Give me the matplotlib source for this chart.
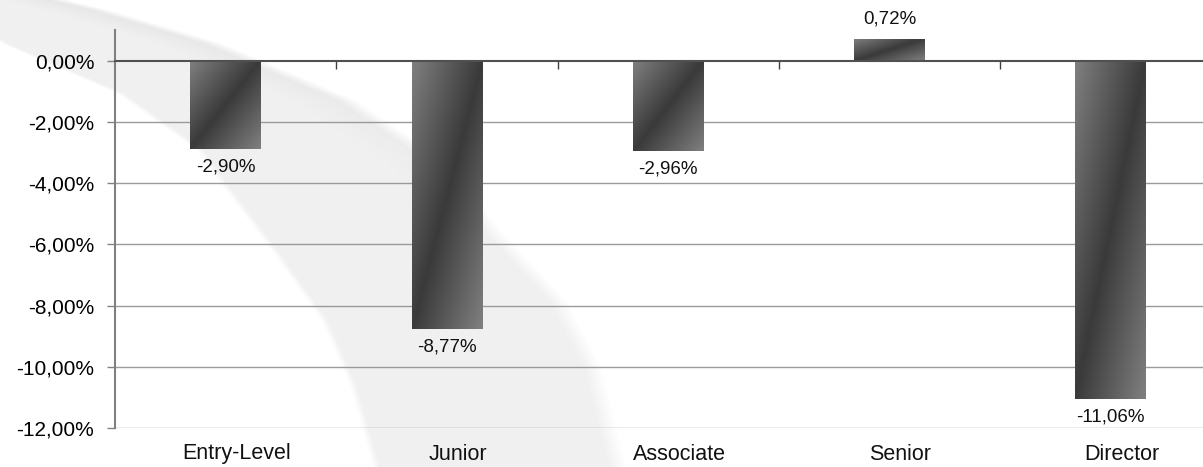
import numpy as np
import matplotlib
matplotlib.use('Agg')
import matplotlib.pyplot as plt

plt.rcParams['font.family'] = ['Liberation Sans', 'DejaVu Sans']

categories = ['Entry-Level', 'Junior', 'Associate', 'Senior', 'Director']
values = [-2.90, -8.77, -2.96, 0.72, -11.06]
yticks = [0, -2, -4, -6, -8, -10, -12]

W, H = 1203, 467
fig = plt.figure(figsize=(W / 100, H / 100), dpi=100)

# faint swoosh watermark behind the chart, drawn as a soft raster
bg = fig.add_axes([0, 0, 1, 1], zorder=-1)
Y, X = np.mgrid[0:H, 0:W].astype(float)
left_y = [0, 43, 93, 150, 180, 250, 320, 383, 467]
left_x = [-60, 0, 116, 196, 217, 270, 320, 348, 372]
right_y = [0, 10, 43, 100, 160, 233, 300, 367, 467]
right_x = [70, 112, 223, 357, 446, 505, 568, 603, 628]
xl = np.interp(Y, left_y, left_x)
xr = np.interp(Y, right_y, right_x)
inside = np.clip((X - xl) / 8, 0, 1) * np.clip((xr - X) / 20, 0, 1)
band = np.clip(1 - (xr - X) / 70, 0, 1) * np.clip(1 - Y / 260, 0, 1) * inside
gray = 1 - 0.06 * inside - 0.05 * band
bg.imshow(gray, cmap='gray', vmin=0, vmax=1, extent=[0, W, H, 0], aspect='auto',
          interpolation='bilinear')
bg.axis('off')

ax = fig.add_axes([115 / W, 39 / H, 1 - 115 / W, 398 / H])
ax.patch.set_alpha(0)

for y in yticks:
    if y != 0:
        ax.axhline(y, color='#9a9a9a', lw=1, zorder=1)

# diagonal gradient used for the bars
g = np.linspace(0, 1, 200)
u, v = np.meshgrid(g, g)
shade = 1 - np.abs(u + v - 1)
light = np.array([0x80, 0x80, 0x80]) / 255
dark = np.array([0x3a, 0x3a, 0x3a]) / 255
img = light + (dark - light) * shade[..., None]

x = np.arange(len(categories))
bars = ax.bar(x, values, width=0.32, color='none', zorder=2)
for b, val in zip(bars, values):
    x0, w = b.get_x(), b.get_width()
    y0, y1 = min(0, val), max(0, val)
    im = ax.imshow(img, extent=[x0, x0 + w, y0, y1], origin='upper',
                   aspect='auto', zorder=2, interpolation='bilinear')
    im.set_clip_path(b)
    lbl = ('%.2f%%' % val).replace('.', ',')
    off = 20 if val > 0 else -18
    ax.annotate(lbl, (x0 + w / 2, val), xytext=(0, off),
                textcoords='offset pixels', ha='center', va='center',
                fontsize=13.5, color='#111111')

ax.set_xlim(-0.5, 4.417)
ax.set_ylim(-12, 1)

for s in ['top', 'right']:
    ax.spines[s].set_visible(False)
ax.spines['left'].set_color('#808080')
ax.spines['left'].set_linewidth(1.5)
ax.spines['bottom'].set_position(('data', 0))
ax.spines['bottom'].set_color('#505050')
ax.spines['bottom'].set_linewidth(1.5)
ax.spines['bottom'].set_zorder(3)

ax.set_yticks(yticks)
ax.set_yticklabels([('%.2f%%' % t).replace('.', ',') for t in yticks], fontsize=15)
ax.tick_params(axis='y', length=6, width=1, color='#808080', pad=9)

ax.set_xticks(np.arange(0.5, 4.5, 1))
ax.set_xticklabels([])
ax.tick_params(axis='x', length=6, width=1, color='#404040', direction='out')

for xi, c in zip(x, categories):
    ax.annotate(c, (xi, -12), xytext=(11, -26), textcoords='offset pixels',
                ha='center', va='center', fontsize=15.5, color='#111111')

fig.savefig('out.png', dpi=100)
